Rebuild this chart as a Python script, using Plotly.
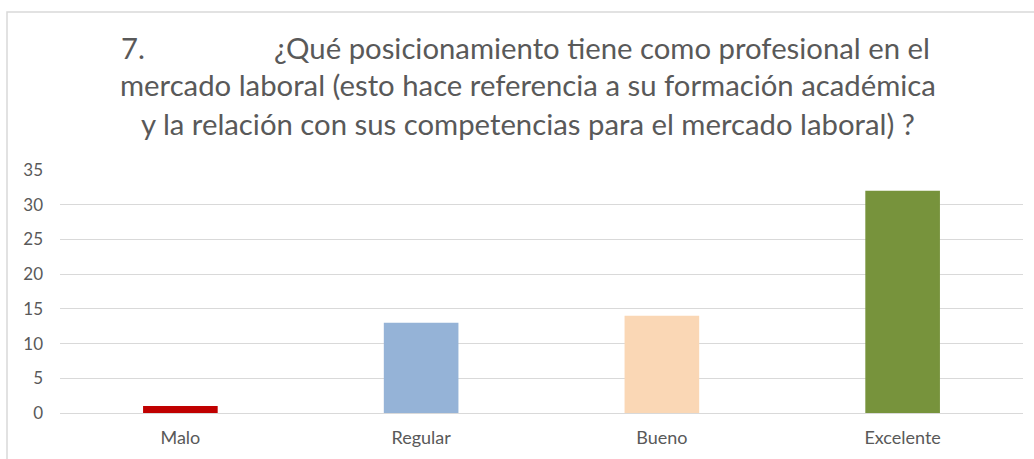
import plotly.graph_objects as go

categories = ["Malo", "Regular", "Bueno", "Excelente"]
values = [1, 13, 14, 32]
colors = ["#C00000", "#95B3D7", "#FAD7B5", "#77933C"]
y_ticks = [0, 5, 10, 15, 20, 25, 30, 35]

title_line1a = "7."
title_line1b = "¿Qué posicionamiento tiene como profesional en el"
title_line2 = "mercado laboral (esto hace referencia a su formación académica"
title_line3 = "y la relación con sus competencias para el mercado laboral) ?"

W, H = 1034, 459
L, R, T, B = 60, 11, 170, 46
pw, ph = W - L - R, H - T - B

def px(x):
    return (x - L) / pw

def py(y):
    return (H - B - y) / ph

FONT = "Lato, Open Sans, sans-serif"
TXT = "#595959"

fig = go.Figure(go.Bar(
    x=categories, y=values, marker_color=colors, width=0.31,
    marker_line_width=0, hoverinfo="skip",
))

annos = [
    dict(text=title_line1a, x=px(119), y=py(47), xanchor="left"),
    dict(text=title_line1b, x=px(932), y=py(47), xanchor="right"),
    dict(text=title_line2, x=px(528), y=py(85), xanchor="center"),
    dict(text=title_line3, x=px(528), y=py(123), xanchor="center"),
]
for a in annos:
    a.update(xref="paper", yref="paper", yanchor="middle", showarrow=False,
             font=dict(family=FONT, size=29.3, color=TXT))

fig.update_layout(
    width=W, height=H,
    margin=dict(l=L, r=R, t=T, b=B, pad=0),
    paper_bgcolor="white", plot_bgcolor="white",
    showlegend=False,
    annotations=annos,
    shapes=[dict(type="rect", xref="paper", yref="paper",
                 x0=px(7), x1=px(1040), y0=py(465), y1=py(12),
                 line=dict(color="#D9D9D9", width=1.5), layer="below")],
)
fig.update_xaxes(showgrid=False, showline=False, ticks="", ticklabelstandoff=12,
                 tickfont=dict(family=FONT, size=18, color=TXT))
fig.update_yaxes(range=[0, 35], tickvals=y_ticks, showgrid=True,
                 gridcolor="#D9D9D9", gridwidth=1, zeroline=True,
                 zerolinecolor="#D9D9D9", zerolinewidth=1, showline=False,
                 ticks="", ticklabelstandoff=16,
                 tickfont=dict(family=FONT, size=17, color=TXT))

fig.write_html("out.html", config={"displayModeBar": False},
               post_script="document.body.style.margin='0';document.body.style.padding='0';")
